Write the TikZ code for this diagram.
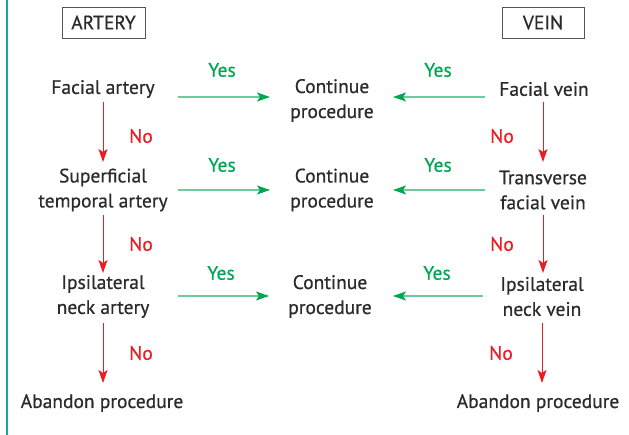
\documentclass[tikz,border=0pt]{standalone}
\usepackage{fontspec}
\setmainfont{PT Sans}[FakeBold=0.6]
\usetikzlibrary{arrows.meta}
\definecolor{txt}{HTML}{2B2B2B}
\definecolor{yesgreen}{HTML}{00A651}
\definecolor{linegreen}{HTML}{6CCB9B}
\definecolor{nored}{HTML}{ED1C24}
\definecolor{teal}{HTML}{1AA59C}
\definecolor{boxgray}{HTML}{555555}
\tikzset{
  lbl/.style={font=\fontsize{19.5}{25}\selectfont, text=txt, align=center, inner sep=0pt},
  hdr/.style={font=\fontsize{19.5}{25}\selectfont, text=txt, draw=boxgray, line width=0.9pt, minimum height=31pt, inner sep=0pt},
  yeslbl/.style={font=\fontsize{19.5}{25}\selectfont, text=yesgreen, inner sep=0pt},
  nolbl/.style={font=\fontsize{19.5}{25}\selectfont, text=nored, inner sep=0pt},
  noarrow/.style={draw=nored, line width=1pt, -{Stealth[length=13pt,width=9pt,inset=3pt,fill=nored]}},
  yesarrow/.style={draw=linegreen, line width=1.3pt, -{Stealth[length=13pt,width=9pt,inset=3pt,color=yesgreen,fill=yesgreen]}}
}
\begin{document}
\begin{tikzpicture}[x=1pt,y=-1pt]
\useasboundingbox (0,0) rectangle (629,435);
\draw[teal, line width=2.5pt] (7,0) -- (7,435);
% headers
\node[hdr, minimum width=83pt] (art) at (103.5,22.5) {ARTERY};
\node[hdr, minimum width=82pt] (vein) at (543,22.5) {VEIN};
% left column
\node[lbl] (a1) at (103,89) {Facial artery};
\node[lbl] (a2) at (103,190) {Superficial\\temporal artery};
\node[lbl] (a3) at (103,296.5) {Ipsilateral\\neck artery};
\node[lbl] (a4) at (102,403) {Abandon procedure};
% middle
\node[lbl] (c1) at (332,100.5) {Continue\\procedure};
\node[lbl] (c2) at (332,190) {Continue\\procedure};
\node[lbl] (c3) at (330,296.5) {Continue\\procedure};
% right column
\node[lbl] (v1) at (544,89) {Facial vein};
\node[lbl] (v2) at (543,190) {Transverse\\facial vein};
\node[lbl] (v3) at (542,296.5) {Ipsilateral\\neck vein};
\node[lbl] (v4) at (538,403) {Abandon procedure};
% connector anchor coordinates
\coordinate (a1s) at (103,102);
\coordinate (a2n) at (103,162);
\coordinate (a2s) at (103,215);
\coordinate (a3n) at (103,273);
\coordinate (a3s) at (103,323);
\coordinate (a4n) at (103,383);
\coordinate (v1s) at (543,102);
\coordinate (v2n) at (543,162);
\coordinate (v2s) at (543,215);
\coordinate (v3n) at (543,273);
\coordinate (v3s) at (542,323);
\coordinate (v4n) at (542,383);
% red No arrows
\draw[noarrow] (a1s) -- (a2n);
\draw[noarrow] (a2s) -- (a3n);
\draw[noarrow] (a3s) -- (a4n);
\draw[noarrow] (v1s) -- (v2n);
\draw[noarrow] (v2s) -- (v3n);
\draw[noarrow] (v3s) -- (v4n);
% green Yes arrows
\draw[yesarrow] (178,97) -- (270,97);
\draw[yesarrow] (178,190) -- (270,190);
\draw[yesarrow] (178,296) -- (269,296);
\draw[yesarrow] (485,97) -- (393,97);
\draw[yesarrow] (485,190) -- (393,190);
\draw[yesarrow] (483,296) -- (393,296);
% labels
\node[yeslbl] (y1) at (222,70) {Yes};
\node[yeslbl] (y2) at (222,165) {Yes};
\node[yeslbl] (y3) at (221,273) {Yes};
\node[yeslbl] (y4) at (438,70) {Yes};
\node[yeslbl] (y5) at (438,165) {Yes};
\node[yeslbl] (y6) at (437,273) {Yes};
\node[nolbl] (n1) at (141,136) {No};
\node[nolbl] (n2) at (141,244) {No};
\node[nolbl] (n3) at (141,353) {No};
\node[nolbl] (n4) at (502,136) {No};
\node[nolbl] (n5) at (502,244) {No};
\node[nolbl] (n6) at (501,353) {No};
\end{tikzpicture}
\end{document}
